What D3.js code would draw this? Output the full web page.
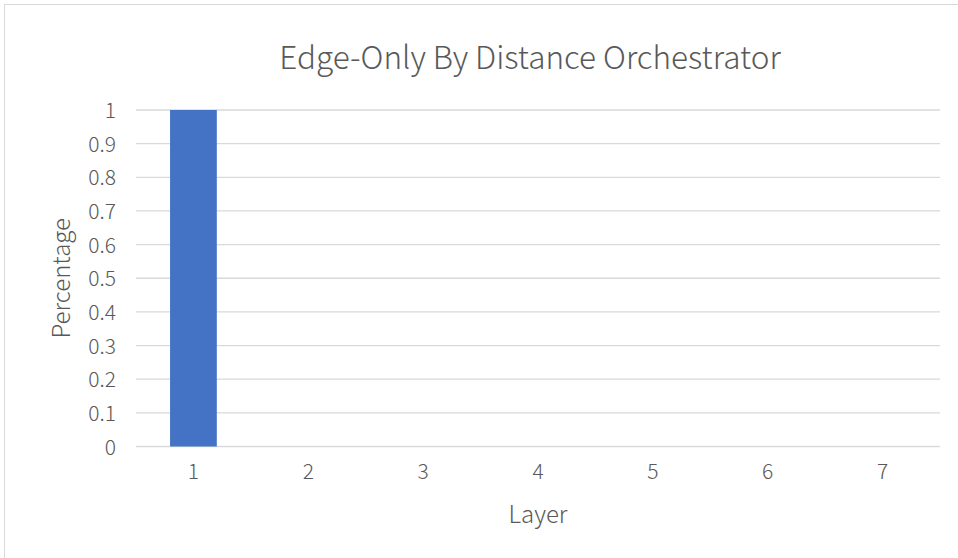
<!DOCTYPE html>
<html>
<head>
<meta charset="utf-8">
<script src="https://cdn.jsdelivr.net/npm/d3@7"></script>
<style>
  html, body { margin: 0; padding: 0; background: #fff; }
  svg { display: block; }
  text { font-family: "Noto Sans CJK SC", "Noto Sans", sans-serif; font-weight: 300; fill: #595959; }
</style>
</head>
<body>
<svg id="chart" width="958" height="558"></svg>
<script>
// Share of traffic handled per layer
const layers = ["1", "2", "3", "4", "5", "6", "7"];
const percentages = [1, 0, 0, 0, 0, 0, 0];
const yTicks = [0, 0.1, 0.2, 0.3, 0.4, 0.5, 0.6, 0.7, 0.8, 0.9, 1];

const title = "Edge-Only By Distance Orchestrator";
const xTitle = "Layer";
const yTitle = "Percentage";

const W = 958, H = 558;
const plot = { left: 136, right: 940, top: 110, bottom: 446.5 };

const svg = d3.select("#chart");

// chart frame
svg.append("rect")
  .attr("x", 4.5).attr("y", 4.5)
  .attr("width", W + 20).attr("height", H + 20)
  .attr("fill", "#fff").attr("stroke", "#d9d9d9").attr("stroke-width", 1);

const gap = 0.593;
const x = d3.scaleBand()
  .domain(layers)
  .range([plot.left, plot.right])
  .paddingInner(gap)
  .paddingOuter(gap / 2);

const y = d3.scaleLinear().domain([0, 1]).range([plot.bottom, plot.top]);

// horizontal gridlines
svg.append("g")
  .selectAll("line")
  .data(yTicks)
  .join("line")
  .attr("x1", plot.left).attr("x2", plot.right)
  .attr("y1", d => y(d)).attr("y2", d => y(d))
  .attr("stroke", "#d9d9d9").attr("stroke-width", 1.3);

// y axis labels
const yAxis = d3.axisLeft(y).tickValues(yTicks).tickSize(0).tickPadding(0)
  .tickFormat(d => d3.format("~g")(d));
svg.append("g")
  .attr("transform", `translate(${plot.left - 20},0)`)
  .call(yAxis)
  .call(g => g.select(".domain").remove())
  .call(g => g.selectAll("text")
    .attr("font-size", 21)
    .attr("font-family", null)
    .attr("fill", "#595959")
    .attr("dy", "0.36em"));

// bars
svg.append("g")
  .selectAll("rect")
  .data(layers.map((l, i) => ({ layer: l, value: percentages[i] })))
  .join("rect")
  .attr("x", d => x(d.layer))
  .attr("width", x.bandwidth())
  .attr("y", d => y(d.value))
  .attr("height", d => y(0) - y(d.value))
  .attr("fill", "#4472c4");

// x axis labels
const xAxis = d3.axisBottom(x).tickSize(0).tickPadding(0);
svg.append("g")
  .attr("transform", `translate(0,${plot.bottom + 17})`)
  .call(xAxis)
  .call(g => g.select(".domain").remove())
  .call(g => g.selectAll("text")
    .attr("font-size", 21)
    .attr("font-family", null)
    .attr("fill", "#595959")
    .attr("dy", "0.75em"));

// titles
svg.append("text")
  .attr("x", 530).attr("y", 69)
  .attr("text-anchor", "middle")
  .attr("font-size", 31.5)
  .text(title);

svg.append("text")
  .attr("x", (plot.left + plot.right) / 2).attr("y", 523)
  .attr("text-anchor", "middle")
  .attr("font-size", 24)
  .text(xTitle);

svg.append("text")
  .attr("transform", `translate(70,${(plot.top + plot.bottom) / 2}) rotate(-90)`)
  .attr("text-anchor", "middle")
  .attr("font-size", 24)
  .text(yTitle);
</script>
</body>
</html>
